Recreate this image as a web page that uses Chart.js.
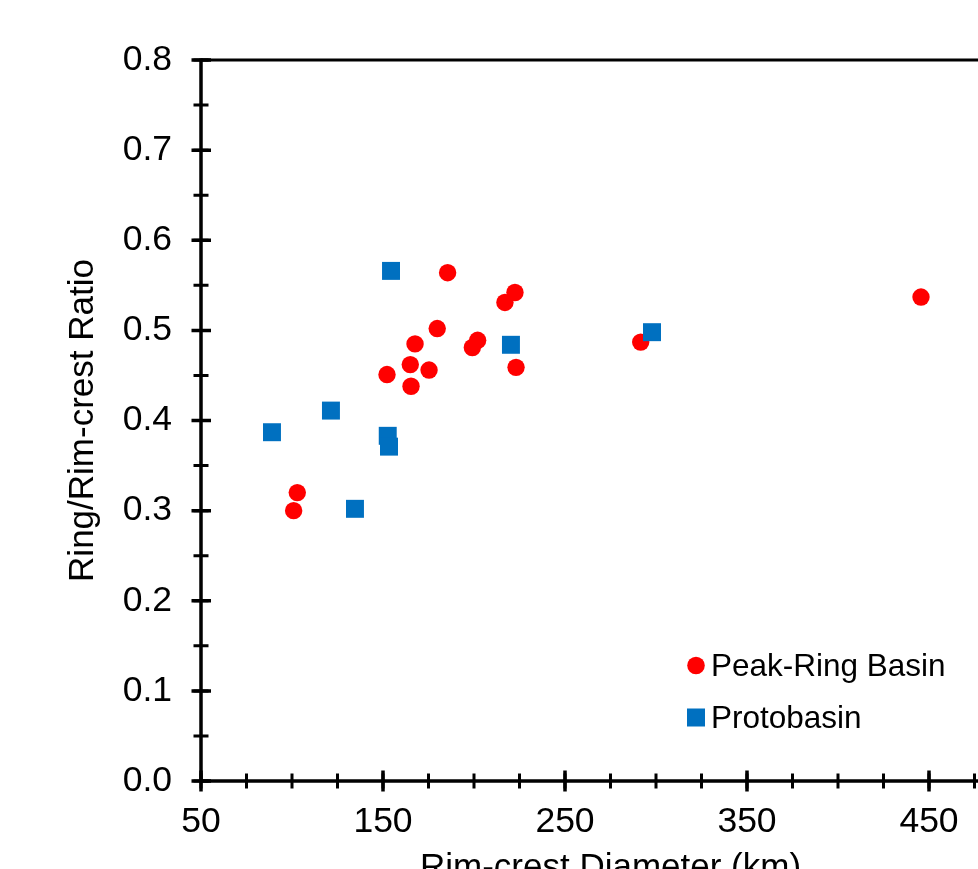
<!DOCTYPE html>
<html>
<head>
<meta charset="utf-8">
<script src="https://cdn.jsdelivr.net/npm/chart.js@4/dist/chart.umd.min.js"></script>
<style>
  html, body { margin: 0; padding: 0; background: #fff; overflow: hidden; }
  canvas { display: block; }
</style>
</head>
<body>
<canvas id="c" width="1060" height="900"></canvas>
<script>
// ---- Data ----
const peakRingX = [100.9, 102.9, 152.2, 165.0, 165.4, 167.6, 175.3, 179.8, 185.5, 199.1, 202.0, 217.0, 222.5, 223.1, 291.6, 445.6];
const peakRingY = [0.300, 0.320, 0.451, 0.462, 0.438, 0.485, 0.456, 0.502, 0.564, 0.481, 0.489, 0.531, 0.542, 0.459, 0.487, 0.537];
const protoX = [89.0, 121.4, 134.6, 152.6, 153.3, 154.4, 220.3, 297.8];
const protoY = [0.387, 0.411, 0.302, 0.383, 0.371, 0.566, 0.484, 0.498];

const seriesLabels = ['Peak-Ring Basin', 'Protobasin'];
const xTickValues = [50, 150, 250, 350, 450];
const yTickValues = [0, 0.1, 0.2, 0.3, 0.4, 0.5, 0.6, 0.7, 0.8];
const xMinorStep = 25;
const yMinorStep = 0.05;
const xTitle = 'Rim-crest Diameter (km)';
const yTitle = 'Ring/Rim-crest Ratio';

const FONT = '"Liberation Sans", Arial, sans-serif';
const RED = '#FF0000';
const BLUE = '#0070C0';

const toPts = (xs, ys) => xs.map((x, i) => ({ x: x, y: ys[i] }));

// Axis lines and crossing tick marks
const axesPlugin = {
  id: 'axesPlugin',
  afterDatasetsDraw(chart) {
    const { ctx, chartArea: a, scales: { x, y } } = chart;
    ctx.save();
    ctx.strokeStyle = '#000';
    ctx.lineCap = 'butt';
    // frame: top, right
    ctx.lineWidth = 3;
    ctx.beginPath();
    ctx.moveTo(a.left, a.top); ctx.lineTo(a.right, a.top);
    ctx.moveTo(a.right, a.top); ctx.lineTo(a.right, a.bottom);
    ctx.stroke();
    // axes: left, bottom
    ctx.lineWidth = 3.5;
    ctx.beginPath();
    ctx.moveTo(a.left, a.top - 1.5); ctx.lineTo(a.left, a.bottom);
    ctx.moveTo(a.left, a.bottom); ctx.lineTo(a.right, a.bottom);
    ctx.stroke();
    // x minor ticks
    ctx.lineWidth = 3;
    ctx.beginPath();
    for (let v = x.min; v <= x.max + 1e-9; v += xMinorStep) {
      const px = x.getPixelForValue(v);
      ctx.moveTo(px, a.bottom - 7.5); ctx.lineTo(px, a.bottom + 7.5);
    }
    ctx.stroke();
    // x major ticks
    ctx.lineWidth = 3.5;
    ctx.beginPath();
    xTickValues.forEach(v => {
      const px = x.getPixelForValue(v);
      ctx.moveTo(px, a.bottom - 10.5); ctx.lineTo(px, a.bottom + 10.5);
    });
    ctx.stroke();
    // y minor ticks
    ctx.lineWidth = 3;
    ctx.beginPath();
    for (let i = 0; i * yMinorStep <= y.max + 1e-9; i++) {
      const py = y.getPixelForValue(i * yMinorStep);
      ctx.moveTo(a.left - 7.5, py); ctx.lineTo(a.left + 7.5, py);
    }
    ctx.stroke();
    // y major ticks
    ctx.lineWidth = 3.5;
    ctx.beginPath();
    yTickValues.forEach(v => {
      const py = y.getPixelForValue(v);
      ctx.moveTo(a.left - 9.5, py); ctx.lineTo(a.left + 10, py);
    });
    ctx.stroke();
    ctx.restore();
  }
};

// Legend inside the plot (bottom right)
const legendPlugin = {
  id: 'innerLegend',
  afterDraw(chart) {
    const { ctx } = chart;
    ctx.save();
    ctx.font = '31.5px ' + FONT;
    ctx.textBaseline = 'alphabetic';
    ctx.textAlign = 'left';
    // item 1: circle
    ctx.fillStyle = RED;
    ctx.beginPath();
    ctx.arc(696, 665.5, 8.8, 0, Math.PI * 2);
    ctx.fill();
    ctx.fillStyle = '#000';
    ctx.fillText(chart.data.datasets[0].label, 711, 676);
    // item 2: square
    ctx.fillStyle = BLUE;
    ctx.fillRect(687, 708.5, 18, 18);
    ctx.fillStyle = '#000';
    ctx.fillText(chart.data.datasets[1].label, 711, 728);
    ctx.restore();
  }
};

new Chart(document.getElementById('c').getContext('2d'), {
  type: 'scatter',
  data: {
    datasets: [
      {
        label: seriesLabels[0],
        data: toPts(peakRingX, peakRingY),
        pointStyle: 'circle',
        pointRadius: 8.7,
        pointHoverRadius: 8.7,
        backgroundColor: RED,
        borderColor: RED,
        borderWidth: 0,
        order: 1
      },
      {
        label: seriesLabels[1],
        data: toPts(protoX, protoY),
        pointStyle: 'rect',
        pointRadius: 12.7,
        pointHoverRadius: 12.7,
        backgroundColor: BLUE,
        borderColor: BLUE,
        borderWidth: 0,
        order: 0
      }
    ]
  },
  options: {
    responsive: false,
    animation: false,
    devicePixelRatio: 1,
    events: [],
    layout: { padding: { top: 60, left: 0, right: 40, bottom: 0 } },
    plugins: { legend: { display: false }, tooltip: { enabled: false } },
    scales: {
      x: {
        type: 'linear',
        min: 50,
        max: 500,
        afterBuildTicks: s => { s.ticks = xTickValues.map(v => ({ value: v })); },
        afterFit: s => { s.height = 119; },
        grid: { display: false, drawTicks: false },
        border: { display: false },
        ticks: {
          padding: 20,
          color: '#000',
          font: { family: FONT, size: 35.5 },
          maxRotation: 0,
          autoSkip: false,
          callback: v => String(v)
        },
        title: {
          display: true,
          text: xTitle,
          color: '#000',
          font: { family: FONT, size: 35, lineHeight: 1.2 },
          padding: { top: 0, bottom: 11 }
        }
      },
      y: {
        type: 'linear',
        min: 0,
        max: 0.8,
        afterBuildTicks: s => { s.ticks = yTickValues.map(v => ({ value: v })); },
        afterFit: s => { s.width = 201; },
        grid: { display: false, drawTicks: false },
        border: { display: false },
        ticks: {
          padding: 29,
          color: '#000',
          font: { family: FONT, size: 35.5 },
          autoSkip: false,
          callback: v => Number(v).toFixed(1)
        },
        title: {
          display: true,
          text: yTitle,
          color: '#000',
          font: { family: FONT, size: 35, lineHeight: 1.2 },
          padding: { top: 62, bottom: 0 }
        }
      }
    }
  },
  plugins: [axesPlugin, legendPlugin]
});
</script>
</body>
</html>
